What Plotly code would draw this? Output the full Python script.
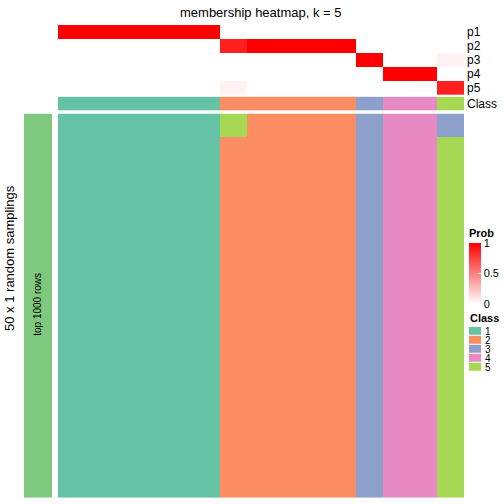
import plotly.graph_objects as go

# ---------------- data ----------------
samples = list(range(15))
prob_rows = ["p1", "p2", "p3", "p4", "p5"]
p1 = [1, 1, 1, 1, 1, 1, 0, 0, 0, 0, 0, 0, 0, 0, 0]
p2 = [0, 0, 0, 0, 0, 0, 0.88, 1, 1, 1, 1, 0, 0, 0, 0]
p3 = [0, 0, 0, 0, 0, 0, 0, 0, 0, 0, 0, 1, 0, 0, 0.05]
p4 = [0, 0, 0, 0, 0, 0, 0, 0, 0, 0, 0, 0, 1, 1, 0]
p5 = [0, 0, 0, 0, 0, 0, 0.05, 0, 0, 0, 0, 0, 0, 0, 0.88]
consensus_class = [1, 1, 1, 1, 1, 1, 2, 2, 2, 2, 2, 3, 4, 4, 5]
# class assignment in the 50 random samplings: first block of rows / remaining rows
sampling_class_top = [1, 1, 1, 1, 1, 1, 5, 2, 2, 2, 2, 3, 4, 4, 3]
sampling_class_rest = [1, 1, 1, 1, 1, 1, 2, 2, 2, 2, 2, 3, 4, 4, 5]
rows_top = 3
rows_rest = 47
class_labels = ["1", "2", "3", "4", "5"]
class_colors = ["#66C2A5", "#FC8D62", "#8DA0CB", "#E78AC3", "#A6D854"]
prob_ticks = [0, 0.5, 1]

main_z = [sampling_class_top] * rows_top + [sampling_class_rest] * rows_rest

W = 504
def px_x(v):
    return v / W
def px_y(v):
    return 1 - v / W

disc = []
n = len(class_colors)
for i, c in enumerate(class_colors):
    disc.append([i / n, c])
    disc.append([(i + 1) / n, c])

font = "Liberation Sans, Arial, sans-serif"

fig = go.Figure()

# probability annotation rows
fig.add_trace(go.Heatmap(
    z=[p1, p2, p3, p4, p5], x=samples, y=prob_rows,
    xaxis="x", yaxis="y2", zmin=0, zmax=1,
    colorscale=[[0, "#FFFFFF"], [1, "#FF0000"]],
    showscale=True,
    colorbar=dict(
        x=px_x(469), xanchor="left", y=px_y(265), yanchor="middle",
        thickness=12, thicknessmode="pixels", len=78, lenmode="pixels",
        xpad=0, ypad=0, outlinewidth=0,
        tickvals=prob_ticks, ticktext=[str(t) for t in prob_ticks],
        ticks="inside", tickcolor="white", ticklen=3,
        tickfont=dict(size=11, family=font, color="black"),
        title=dict(text="<b>Prob</b>", side="top", font=dict(size=11, family=font)),
    ),
    hoverinfo="skip",
))

# class annotation row
fig.add_trace(go.Heatmap(
    z=[consensus_class], x=samples, y=["Class"],
    xaxis="x", yaxis="y3", zmin=0.5, zmax=5.5, colorscale=disc,
    showscale=False, hoverinfo="skip",
))

# main membership heatmap
fig.add_trace(go.Heatmap(
    z=main_z, x=samples, y=list(range(rows_top + rows_rest)),
    xaxis="x", yaxis="y", zmin=0.5, zmax=5.5, colorscale=disc,
    showscale=False, hoverinfo="skip",
))

# left row-split bar
fig.add_trace(go.Heatmap(
    z=[[1]], x=[0], y=[0], xaxis="x2", yaxis="y4",
    colorscale=[[0, "#7FC97F"], [1, "#7FC97F"]], showscale=False, hoverinfo="skip",
))

# class legend
fig.add_trace(go.Heatmap(
    z=[[1], [2], [3], [4], [5]], x=[0], y=class_labels, xaxis="x3", yaxis="y5",
    zmin=0.5, zmax=5.5, colorscale=disc, showscale=False, ygap=1, hoverinfo="skip",
))

hid = dict(showgrid=False, zeroline=False, showticklabels=False, ticks="")
lab = dict(side="right", showgrid=False, zeroline=False, ticks="", tickmode="array")

fig.update_layout(
    width=504, height=504, autosize=False,
    margin=dict(l=0, r=0, t=0, b=0, pad=0),
    paper_bgcolor="white", plot_bgcolor="white",
    font=dict(family=font, color="black"),
    xaxis=dict(domain=[px_x(58), px_x(464)], range=[-0.5, 14.5], **hid),
    yaxis=dict(domain=[px_y(499), px_y(113)], autorange="reversed", anchor="x", **hid),
    yaxis2=dict(domain=[px_y(94), px_y(24)], autorange="reversed", anchor="x",
                tickvals=prob_rows, ticktext=prob_rows, ticklabelstandoff=2,
                tickfont=dict(size=12, family=font), **lab),
    yaxis3=dict(domain=[px_y(110), px_y(96)], anchor="x",
                tickvals=["Class"], ticktext=["Class"], ticklabelstandoff=2,
                tickfont=dict(size=12, family=font), **lab),
    xaxis2=dict(domain=[px_x(24), px_x(52)], anchor="y4", **hid),
    yaxis4=dict(domain=[px_y(499), px_y(113)], anchor="x2", **hid),
    xaxis3=dict(domain=[px_x(469), px_x(481)], anchor="y5", **hid),
    yaxis5=dict(domain=[px_y(372), px_y(327)], anchor="x3", autorange="reversed",
                tickvals=class_labels, ticktext=class_labels, ticklabelstandoff=3,
                tickfont=dict(size=10, family=font), **lab),
    annotations=[
        dict(text="membership heatmap, k = 5", x=px_x(261), y=px_y(12),
             xref="paper", yref="paper", showarrow=False,
             xanchor="center", yanchor="middle",
             font=dict(size=13, family=font)),
        dict(text="50 x 1 random samplings", x=px_x(10), y=px_y(258),
             xref="paper", yref="paper", showarrow=False, textangle=-90,
             xanchor="center", yanchor="middle",
             font=dict(size=13, family=font)),
        dict(text="top 1000 rows", x=px_x(38), y=px_y(305),
             xref="paper", yref="paper", showarrow=False, textangle=-90,
             xanchor="center", yanchor="middle",
             font=dict(size=10, family=font)),
        dict(text="<b>Class</b>", x=px_x(468), y=px_y(318),
             xanchor="left", yanchor="middle",
             xref="paper", yref="paper", showarrow=False,
             font=dict(size=11, family=font)),
    ],
)

fig.write_html("out.html", config={"displayModeBar": False},
               post_script="document.body.style.margin='0px';")
